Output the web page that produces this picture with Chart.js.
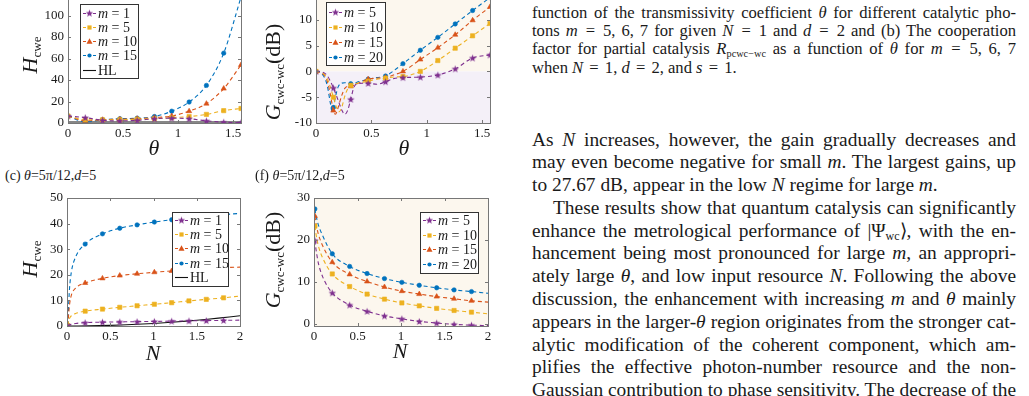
<!DOCTYPE html>
<html>
<head>
<meta charset="utf-8">
<script src="https://cdn.jsdelivr.net/npm/chart.js@4/dist/chart.umd.min.js"></script>
<style>
  body { margin: 0; width: 1029px; height: 396px; overflow: hidden; background: #fff; position: relative;
         font-family: "Liberation Serif", "Times New Roman", serif; color: #1a1a1a; }
  canvas { position: absolute; }
  .ctr { position: absolute; transform: translate(-50%, -50%); white-space: nowrap; font-size: 22px; line-height: 1; }
  .rot { position: absolute; transform: translate(-50%, -50%) rotate(-90deg); white-space: nowrap; font-size: 22px; line-height: 1; }
  .rot sub { font-size: 13px; font-style: normal; vertical-align: -4px; }
  .tag { position: absolute; white-space: nowrap; font-size: 14px; line-height: 16px; }
  .txt { position: absolute; left: 532px; width: 484px; }
  .cap { top: 3.5px; font-size: 16.6px; line-height: 18.4px; }
  .body { top: 128.5px; font-size: 19.4px; line-height: 22.8px; }
  .j { text-align: justify; text-align-last: justify; }
  .tight { word-spacing: -2.5px; }
  .ind { text-indent: 21px; }
  .eq { margin: 0 2px; }
  sub { line-height: 0; }
  .cap sub, .body sub { font-size: 0.62em; vertical-align: -0.25em; }
</style>
</head>
<body>
<canvas id="p1"></canvas>
<canvas id="p2"></canvas>
<canvas id="p3"></canvas>
<canvas id="p4"></canvas>

<div class="rot" style="left:30px;top:55px"><i>H</i><sub>cwe</sub></div>
<div class="ctr" style="left:154px;top:148px"><i>θ</i></div>
<div class="rot" style="left:273px;top:72px"><i>G</i><sub>cwc-wc</sub>(dB)</div>
<div class="ctr" style="left:404px;top:148px"><i>θ</i></div>

<div class="tag" style="left:5px;top:168px">(c) <i>θ</i>=5π/12,<i>d</i>=5</div>
<div class="tag" style="left:255px;top:168px">(f) <i>θ</i>=5π/12,<i>d</i>=5</div>

<div class="rot" style="left:30px;top:259px"><i>H</i><sub>cwe</sub></div>
<div class="ctr" style="left:153px;top:353px"><i>N</i></div>
<div class="rot" style="left:273px;top:260px"><i>G</i><sub>cwc-wc</sub>(dB)</div>
<div class="ctr" style="left:400px;top:351px"><i>N</i></div>

<div class="txt cap">
  <div class="j">function of the transmissivity coefficient <i>θ</i> for different catalytic pho-</div>
  <div class="j">tons <i>m</i> <span class="eq">=</span> 5, 6, 7 for given <i>N</i> <span class="eq">=</span> 1 and <i>d</i> <span class="eq">=</span> 2 and (b) The cooperation</div>
  <div class="j">factor for partial catalysis <i>R</i><sub>pcwc−wc</sub> as a function of <i>θ</i> for <i>m</i> <span class="eq">=</span> 5, 6, 7</div>
  <div>when <i>N</i> <span class="eq">=</span> 1, <i>d</i> <span class="eq">=</span> 2, and <i>s</i> <span class="eq">=</span> 1.</div>
</div>

<div class="txt body">
  <div class="j">As <i>N</i> increases, however, the gain gradually decreases and</div>
  <div class="j">may even become negative for small <i>m</i>. The largest gains, up</div>
  <div>to 27.67 dB, appear in the low <i>N</i> regime for large <i>m</i>.</div>
  <div class="j ind">These results show that quantum catalysis can significantly</div>
  <div class="j">enhance the metrological performance of |Ψ<sub>wc</sub>⟩, with the en-</div>
  <div class="j">hancement being most pronounced for large <i>m</i>, an appropri-</div>
  <div class="j">ately large <i>θ</i>, and low input resource <i>N</i>. Following the above</div>
  <div class="j">discussion, the enhancement with increasing <i>m</i> and <i>θ</i> mainly</div>
  <div class="j tight">appears in the larger-<i>θ</i> region originates from the stronger cat-</div>
  <div class="j">alytic modification of the coherent component, which am-</div>
  <div class="j">plifies the effective photon-number resource and the non-</div>
  <div class="j tight">Gaussian contribution to phase sensitivity. The decrease of the</div>
</div>

<script>
// marker positions (theta = k*pi/20, N = 0.01 + 0.2k)
const thetaMarks = [0, 0.157, 0.314, 0.471, 0.628, 0.785, 0.942, 1.1, 1.257, 1.414, 1.571];
const nMarks = [0.01, 0.21, 0.41, 0.61, 0.81, 1.01, 1.21, 1.41, 1.61, 1.81];

// top-left: H_cwe vs theta
const h1Theta = thetaMarks;
const h1_m1  = [6.5, 5.0, 2.5, 2.0, 2.5, 4.0, 4.5, 4.0, 2.0, 0.8, 0.3];
const h1_m5  = [6.5, 3.0, 3.0, 3.0, 3.5, 4.0, 5.0, 6.0, 8.0, 11.5, 13.5];
const h1_m10 = [6.5, 2.0, 3.0, 3.5, 4.0, 5.0, 6.5, 11.0, 18.0, 32.0, 54.0];
const h1_m15 = [6.5, 1.0, 3.0, 4.0, 4.5, 6.0, 11.0, 19.5, 35.0, 65.0, 117.0];
const hl1Theta = [0, 1.571];
const hl1 = [1, 1];

// top-middle: G_cwc-wc (dB) vs theta
const g2Theta_m5  = [0, 0.05, 0.1, 0.157, 0.2, 0.235, 0.26, 0.285, 0.314, 0.34, 0.37, 0.42, 0.471, 0.55, 0.628, 0.7, 0.785, 0.942, 1.1, 1.257, 1.414, 1.571];
const g2_m5       = [0, -0.1, -0.8, -3.2, -5.6, -7.6, -8.3, -7.6, -5.4, -3.2, -2.4, -2.3, -2.3, -2.5, -2.0, -1.4, -1.2, -1.1, -0.7, 0.5, 2.6, 3.2];
const g2Theta_m10 = [0, 0.05, 0.1, 0.157, 0.185, 0.21, 0.235, 0.26, 0.29, 0.314, 0.37, 0.42, 0.471, 0.55, 0.628, 0.7, 0.785, 0.942, 1.1, 1.257, 1.414, 1.571];
const g2_m10      = [0, -0.2, -1.3, -5.0, -7.0, -7.8, -6.8, -4.8, -3.2, -2.7, -2.3, -2.1, -1.9, -1.5, -1.3, -1.1, -1.0, 0.0, 2.1, 4.5, 6.9, 9.3];
const g2Theta_m15 = [0, 0.05, 0.1, 0.13, 0.157, 0.175, 0.2, 0.23, 0.26, 0.29, 0.314, 0.37, 0.42, 0.471, 0.55, 0.628, 0.7, 0.785, 0.942, 1.1, 1.257, 1.414, 1.571];
const g2_m15      = [0, -0.3, -1.8, -4.5, -7.6, -8.3, -7.0, -4.8, -3.3, -2.9, -2.9, -2.4, -1.9, -1.5, -1.3, -1.2, -0.7, 0.0, 2.3, 4.6, 7.1, 9.9, 12.5];
const g2Theta_m20 = [0, 0.05, 0.1, 0.13, 0.145, 0.157, 0.175, 0.2, 0.23, 0.26, 0.314, 0.37, 0.42, 0.471, 0.55, 0.628, 0.7, 0.785, 0.942, 1.1, 1.257, 1.414, 1.571];
const g2_m20      = [0, -0.4, -2.6, -6.2, -7.8, -7.0, -5.0, -3.0, -2.3, -2.2, -2.4, -2.1, -1.8, -1.5, -1.2, -0.9, 0.1, 1.5, 4.1, 6.6, 9.2, 11.8, 14.3];

// bottom-left: H_cwe vs N
const nGrid = [0.01, 0.02, 0.03, 0.05, 0.1, 0.21, 0.41, 0.61, 0.81, 1.01, 1.21, 1.41, 1.61, 1.81, 2.0];
const h3_m1  = [0.0, 0.3, 0.5, 0.7, 1.0, 1.3, 1.5, 1.6, 1.7, 1.8, 1.9, 2.0, 2.1, 2.2, 2.3];
const h3_m5  = [0.1, 2.0, 3.0, 4.0, 4.9, 5.8, 6.6, 7.3, 7.9, 8.5, 9.1, 9.8, 10.4, 11.0, 11.7];
const h3_m10 = [0.2, 5.0, 8.5, 12.0, 14.8, 16.8, 18.6, 19.7, 20.4, 21.0, 21.5, 22.0, 22.4, 22.8, 23.0];
const h3_m15 = [0.3, 9.0, 15.0, 21.0, 27.0, 32.0, 36.0, 38.2, 39.5, 40.6, 41.5, 42.3, 43.0, 43.5, 44.0];
const hl3N = [0, 0.25, 0.5, 0.75, 1, 1.25, 1.5, 1.75, 2];
const hl3  = [0, 0.06, 0.25, 0.56, 1, 1.56, 2.25, 3.06, 4];

// bottom-middle: G_cwc-wc (dB) vs N
const g4_m5  = [19.9, 18.2, 16.8, 14.5, 11.2, 7.4, 4.5, 3.0, 1.9, 1.2, 0.6, 0.2, -0.1, -0.3, -0.4];
const g4_m10 = [23.3, 21.8, 20.6, 18.6, 15.7, 11.9, 8.9, 7.1, 5.9, 5.0, 4.3, 3.7, 3.2, 2.8, 2.4];
const g4_m15 = [25.7, 24.3, 23.2, 21.4, 18.6, 14.7, 11.8, 10.1, 8.8, 7.8, 7.1, 6.5, 6.0, 5.5, 5.2];
const g4_m20 = [27.4, 26.2, 25.2, 23.6, 21.0, 16.7, 13.7, 12.0, 10.8, 9.9, 9.2, 8.6, 8.1, 7.7, 7.3];

// tick labels
const thetaTicks = [0, 0.5, 1, 1.5];
const nTicks = [0, 0.5, 1, 1.5, 2];
const h1Ticks = [0, 20, 40, 60, 80, 100, 120];
const g2Ticks = [-10, -5, 0, 5, 10, 15];
const h3Ticks = [0, 10, 20, 30, 40, 50];
const g4Ticks = [0, 10, 20, 30];

const PURPLE = '#7E2F8E', YELLOW = '#EDB120', RED = '#D95319', BLUE = '#0072BD';
const BEIGE = '#FCF7EE', LAVENDER = '#F4F0F8';
const FONT = '"Liberation Serif", "Times New Roman", serif';

// filled pentagram marker
function starImg(color) {
  const c = document.createElement('canvas');
  c.width = 9; c.height = 9;
  const g = c.getContext('2d');
  g.fillStyle = color;
  g.beginPath();
  for (let i = 0; i < 10; i++) {
    const r = i % 2 ? 1.6 : 3.9;
    const a = -Math.PI / 2 + i * Math.PI / 5;
    g.lineTo(4.5 + r * Math.cos(a), 4.9 + r * Math.sin(a));
  }
  g.closePath();
  g.fill();
  return c;
}
const STAR = starImg(PURPLE);

function drawMark(ctx, style, x, y, color) {
  ctx.fillStyle = color;
  if (style === 'star') { ctx.drawImage(STAR, x - 4.5, y - 4.9); return; }
  ctx.beginPath();
  if (style === 'rect') ctx.rect(x - 2.1, y - 2.1, 4.2, 4.2);
  else if (style === 'triangle') { ctx.moveTo(x, y - 3.2); ctx.lineTo(x + 3, y + 2.2); ctx.lineTo(x - 3, y + 2.2); ctx.closePath(); }
  else if (style === 'circle') ctx.arc(x, y, 2.1, 0, Math.PI * 2);
  ctx.fill();
}

function series(label, xs, ys, color, style, marks) {
  return {
    label: label, mark: style,
    data: xs.map((x, i) => ({ x: x, y: ys[i] })),
    borderColor: color, backgroundColor: color, borderWidth: 1.1, borderDash: [4, 3],
    pointStyle: style === 'star' ? STAR : style,
    pointRadius: c => (c.raw && marks.some(m => Math.abs(m - c.raw.x) < 1e-6)) ? (style === 'circle' ? 2.2 : 3) : 0,
    pointBorderWidth: 0.6, pointBackgroundColor: color, pointBorderColor: color,
    cubicInterpolationMode: 'monotone'
  };
}
function hlLine(xs, ys) {
  return { label: 'HL', data: xs.map((x, i) => ({ x: x, y: ys[i] })), borderColor: '#111', borderWidth: 1.1, pointRadius: 0, tension: 0.3 };
}

const shade = {
  id: 'shade',
  beforeDatasetsDraw(chart, args, o) {
    if (!o.bands) return;
    const { ctx, chartArea: a, scales: { y } } = chart;
    ctx.save();
    o.bands.forEach(b => {
      const y1 = y.getPixelForValue(b.from), y2 = y.getPixelForValue(b.to);
      ctx.fillStyle = b.color;
      ctx.fillRect(a.left, Math.min(y1, y2), a.right - a.left, Math.abs(y2 - y1));
    });
    ctx.restore();
  }
};

const frame = {
  id: 'frame',
  afterDatasetsDraw(chart) {
    const { ctx, chartArea: a, scales: { x, y } } = chart;
    ctx.save();
    ctx.strokeStyle = '#777'; ctx.lineWidth = 1;
    ctx.beginPath();
    x.ticks.forEach(t => {
      const p = Math.round(x.getPixelForValue(t.value)) + 0.5;
      ctx.moveTo(p, a.bottom); ctx.lineTo(p, a.bottom - 3);
      ctx.moveTo(p, a.top); ctx.lineTo(p, a.top + 3);
    });
    y.ticks.forEach(t => {
      const p = Math.round(y.getPixelForValue(t.value)) + 0.5;
      ctx.moveTo(a.left, p); ctx.lineTo(a.left + 3, p);
      ctx.moveTo(a.right, p); ctx.lineTo(a.right - 3, p);
    });
    ctx.stroke();
    ctx.strokeRect(Math.round(a.left) + 0.5, Math.round(a.top) + 0.5, Math.round(a.right - a.left), Math.round(a.bottom - a.top));
    ctx.restore();
  }
};

const boxLegend = {
  id: 'boxLegend',
  afterDraw(chart, args, o) {
    const ctx = chart.ctx;
    const bx = o.x - o.ox, by = o.y - o.oy;
    ctx.save();
    ctx.fillStyle = '#fff';
    ctx.fillRect(bx, by, o.w, o.h);
    ctx.strokeStyle = '#333'; ctx.lineWidth = 1;
    ctx.strokeRect(bx + 0.5, by + 0.5, o.w, o.h);
    ctx.textBaseline = 'middle';
    chart.data.datasets.forEach((ds, i) => {
      const yy = o.rows[i] - o.oy;
      const x0 = bx + 3, x1 = bx + 16;
      ctx.strokeStyle = ds.borderColor;
      ctx.lineWidth = 1.1;
      ctx.setLineDash(ds.label === 'HL' ? [] : [3, 2]);
      ctx.beginPath(); ctx.moveTo(x0, yy + 0.5); ctx.lineTo(x1, yy + 0.5); ctx.stroke();
      ctx.setLineDash([]);
      if (ds.mark) drawMark(ctx, ds.mark, (x0 + x1) / 2, yy + 0.5, ds.borderColor);
      ctx.fillStyle = '#1a1a1a';
      let tx = bx + 18;
      if (ds.label === 'HL') {
        ctx.font = '14px ' + FONT;
        ctx.fillText('HL', tx, yy + 1);
      } else {
        ctx.font = 'italic 14px ' + FONT;
        ctx.fillText('m', tx, yy + 1);
        tx += ctx.measureText('m').width;
        ctx.font = '14px ' + FONT;
        ctx.fillText(' = ' + ds.label, tx, yy + 1);
      }
    });
    ctx.restore();
  }
};

function axis(min, max, ticks, isX) {
  return {
    type: 'linear', min: min, max: max,
    grid: { display: false, drawTicks: false }, border: { display: false },
    ticks: { padding: isX ? 3 : 4, autoSkip: false, maxRotation: 0, color: '#1a1a1a',
             font: { family: FONT, size: 13 }, callback: v => String(v) },
    afterBuildTicks: s => { s.ticks = ticks.map(v => ({ value: v })); },
    afterFit: s => { if (isX) s.height = 28; else s.width = 50; }
  };
}

function panel(id, box, xAxis, yAxis, sets, legend, bands) {
  const cv = document.getElementById(id);
  const ox = box.left - 50, oy = box.top - 12;
  cv.style.left = ox + 'px';
  cv.style.top = oy + 'px';
  cv.width = box.w + 60;
  cv.height = box.h + 40;
  new Chart(cv, {
    type: 'line',
    data: { datasets: sets },
    options: {
      responsive: false, animation: false, events: [],
      layout: { padding: { left: 0, top: 12, right: 10, bottom: 0 } },
      plugins: {
        legend: { display: false }, tooltip: { enabled: false },
        boxLegend: Object.assign({ ox: ox, oy: oy }, legend),
        shade: { bands: bands }
      },
      scales: { x: xAxis, y: yAxis }
    },
    plugins: [shade, frame, boxLegend]
  });
}

panel('p1', { left: 68, top: -6, w: 173, h: 129 },
  axis(0, 1.571, thetaTicks, true), axis(0, 120, h1Ticks, false),
  [series('1', h1Theta, h1_m1, PURPLE, 'star', thetaMarks),
   series('5', h1Theta, h1_m5, YELLOW, 'rect', thetaMarks),
   series('10', h1Theta, h1_m10, RED, 'triangle', thetaMarks),
   series('15', h1Theta, h1_m15, BLUE, 'circle', thetaMarks),
   hlLine(hl1Theta, hl1)],
  { x: 80, y: 4, w: 58, h: 74, rows: [13, 27, 41, 55, 70] }, null);

panel('p2', { left: 316, top: -6, w: 174, h: 129 },
  axis(0, 1.571, thetaTicks, true), axis(-10, 15, g2Ticks, false),
  [series('5', g2Theta_m5, g2_m5, PURPLE, 'star', thetaMarks),
   series('10', g2Theta_m10, g2_m10, YELLOW, 'rect', thetaMarks),
   series('15', g2Theta_m15, g2_m15, RED, 'triangle', thetaMarks),
   series('20', g2Theta_m20, g2_m20, BLUE, 'circle', thetaMarks)],
  { x: 326, y: 2, w: 59, h: 63, rows: [12, 27, 42, 57] },
  [{ from: 0, to: 15, color: BEIGE }, { from: -10, to: 0, color: LAVENDER }]);

panel('p3', { left: 67, top: 198, w: 173, h: 128 },
  axis(0, 2, nTicks, true), axis(0, 50, h3Ticks, false),
  [series('1', nGrid, h3_m1, PURPLE, 'star', nMarks),
   series('5', nGrid, h3_m5, YELLOW, 'rect', nMarks),
   series('10', nGrid, h3_m10, RED, 'triangle', nMarks),
   series('15', nGrid, h3_m15, BLUE, 'circle', nMarks),
   hlLine(hl3N, hl3)],
  { x: 172, y: 212, w: 56, h: 74, rows: [220, 234, 248, 263, 277] }, null);

panel('p4', { left: 314, top: 198, w: 174, h: 128 },
  axis(0, 2, nTicks, true), axis(-0.5, 30, g4Ticks, false),
  [series('5', nGrid, g4_m5, PURPLE, 'star', nMarks),
   series('10', nGrid, g4_m10, YELLOW, 'rect', nMarks),
   series('15', nGrid, g4_m15, RED, 'triangle', nMarks),
   series('20', nGrid, g4_m20, BLUE, 'circle', nMarks)],
  { x: 420, y: 212, w: 58, h: 61, rows: [220, 235, 249, 264] },
  [{ from: -0.5, to: 30, color: BEIGE }]);
</script>
</body>
</html>
